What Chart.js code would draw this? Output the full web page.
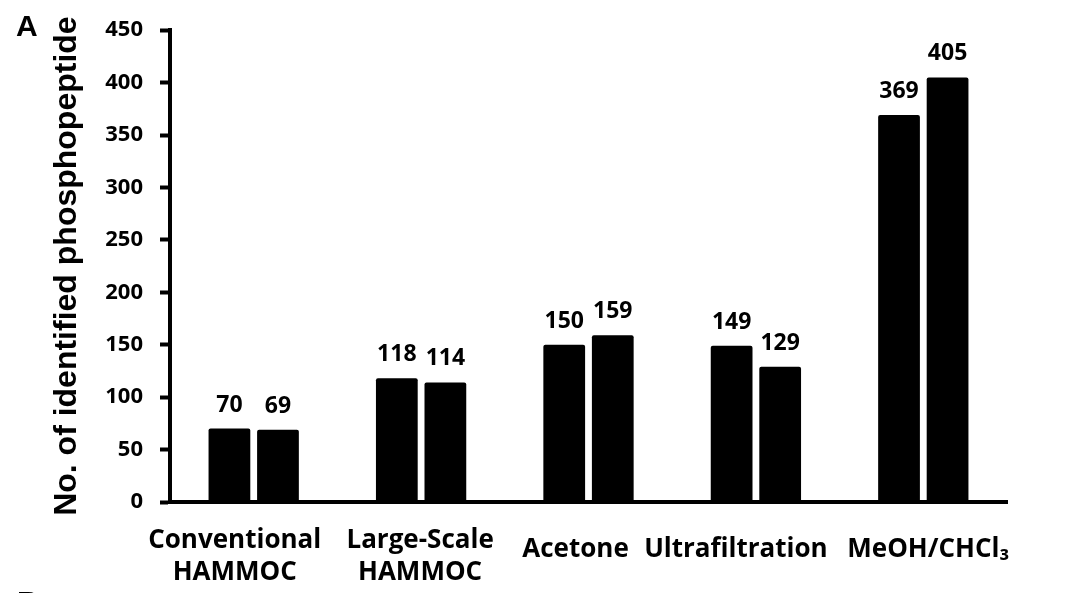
<!DOCTYPE html>
<html>
<head>
<meta charset="utf-8">
<script src="https://cdn.jsdelivr.net/npm/chart.js@4.4.1/dist/chart.umd.min.js"></script>
<style>
  html, body { margin: 0; padding: 0; background: #fff; }
  canvas { display: block; }
</style>
</head>
<body>
<canvas id="chart" width="1066" height="593"></canvas>
<script>
const categories = [
  ["Conventional", "HAMMOC"],
  ["Large-Scale", "HAMMOC"],
  "Acetone",
  "Ultrafiltration",
  "MeOH/CHCl₃"
];
const seriesA = [70, 118, 150, 149, 369];
const seriesB = [69, 114, 159, 129, 405];
const yTicksMax = 450;
const yStep = 50;
const yTitle = "No. of identified phosphopeptide";

const LABEL_FONT = "'Open Sans'";
// the category labels in the original sit a little off their bar pairs
const LABEL_NUDGE = [-19, -1, -13, -20, 5];

// value labels above every bar
const valueLabels = {
  id: "valueLabels",
  afterDatasetsDraw(chart) {
    const ctx = chart.ctx;
    ctx.save();
    ctx.font = "bold 23px " + LABEL_FONT;
    ctx.fillStyle = "#000";
    ctx.textAlign = "center";
    ctx.textBaseline = "alphabetic";
    chart.data.datasets.forEach((ds, i) => {
      chart.getDatasetMeta(i).data.forEach((bar, j) => {
        ctx.fillText(ds.data[j], bar.x, bar.y - 17);
      });
    });
    ctx.restore();
  }
};

// category names under the x axis
const categoryLabels = {
  id: "categoryLabels",
  afterDraw(chart) {
    const ctx = chart.ctx;
    const xs = chart.scales.x;
    ctx.save();
    ctx.font = "bold 26px " + LABEL_FONT;
    ctx.fillStyle = "#000";
    ctx.textAlign = "center";
    ctx.textBaseline = "alphabetic";
    chart.data.labels.forEach((lab, i) => {
      const x = xs.getPixelForTick(i) + LABEL_NUDGE[i];
      if (Array.isArray(lab)) {
        lab.forEach((line, k) => ctx.fillText(line, x, xs.top + 46 + k * 32));
      } else {
        ctx.fillText(lab, x, xs.top + 55);
      }
    });
    ctx.restore();
  }
};

// panel letters
const panelLetters = {
  id: "panelLetters",
  afterDraw(chart) {
    const ctx = chart.ctx;
    ctx.save();
    ctx.font = "bold 30px 'Liberation Sans', Arial, sans-serif";
    ctx.fillStyle = "#000";
    ctx.textAlign = "left";
    ctx.textBaseline = "alphabetic";
    ctx.fillText("A", 16, 36);
    ctx.fillText("B", 17, 612);
    ctx.restore();
  }
};

new Chart(document.getElementById("chart"), {
  type: "bar",
  data: {
    labels: categories,
    datasets: [
      { data: seriesA, backgroundColor: "#000", borderRadius: 2, borderSkipped: "bottom" },
      { data: seriesB, backgroundColor: "#000", borderRadius: 2, borderSkipped: "bottom" }
    ]
  },
  options: {
    responsive: false,
    animation: false,
    devicePixelRatio: 1,
    layout: { padding: { top: 30, right: 59, left: 0, bottom: 0 } },
    plugins: {
      legend: { display: false },
      tooltip: { enabled: false }
    },
    datasets: {
      bar: { categoryPercentage: 0.58, barPercentage: 0.86 }
    },
    scales: {
      x: {
        grid: { display: false },
        border: { display: true, color: "#000", width: 4 },
        ticks: { display: false },
        afterFit(scale) { scale.height = 91; }
      },
      y: {
        min: 0,
        max: yTicksMax,
        grid: {
          drawOnChartArea: false,
          drawTicks: true,
          tickLength: 10,
          tickWidth: 4,
          tickColor: "#000"
        },
        border: { display: true, color: "#000", width: 4 },
        ticks: {
          stepSize: yStep,
          color: "#000",
          padding: 17,
          font: { family: LABEL_FONT, size: 22, weight: "bold" }
        },
        title: {
          display: true,
          text: yTitle,
          color: "#000",
          font: { family: "'Liberation Sans', Arial, sans-serif", size: 32, weight: "bold", lineHeight: 1.2 },
          padding: { top: 48, bottom: 0 }
        },
        afterFit(scale) { scale.width = 170; }
      }
    }
  },
  plugins: [valueLabels, categoryLabels, panelLetters]
});
</script>
</body>
</html>
